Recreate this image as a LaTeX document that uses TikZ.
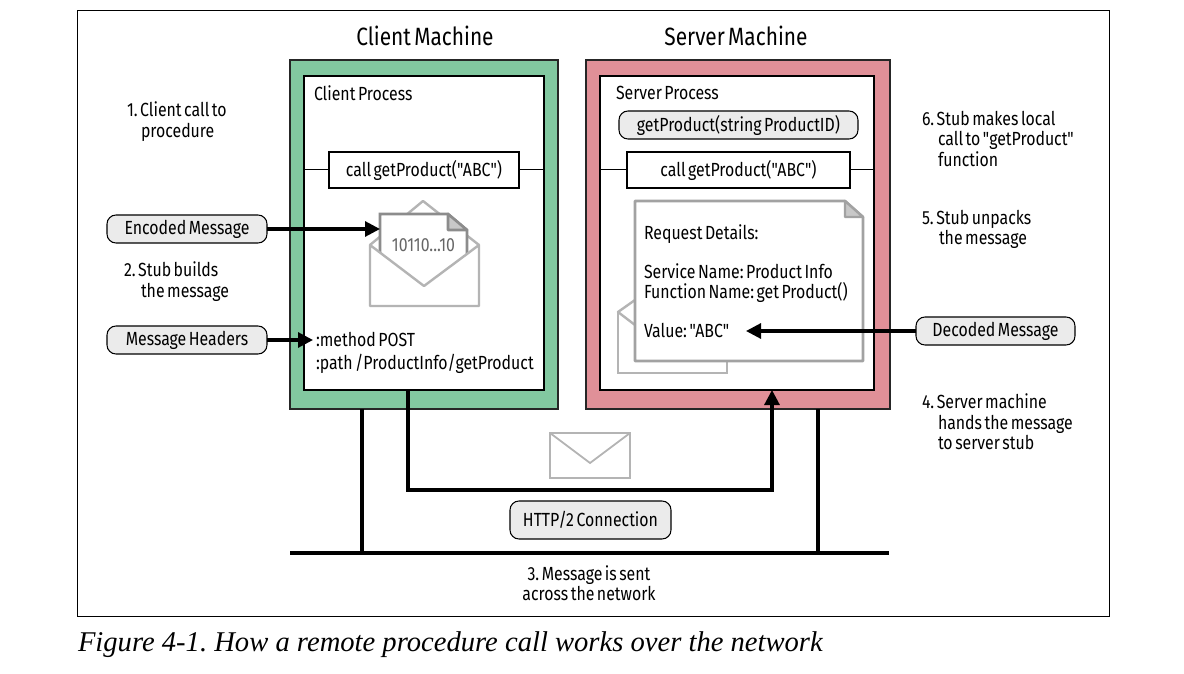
\documentclass[tikz,border=0pt]{standalone}
\usepackage{fontspec}
\setmainfont[FakeStretch=0.835,WordSpace=0.6,Ligatures=TeXOff]{Fira Sans}
\newfontfamily\capfont[Ligatures=TeX]{Liberation Serif}
\usetikzlibrary{positioning,arrows.meta}
\definecolor{clientgreen}{HTML}{82C8A0}
\definecolor{serverred}{HTML}{E09098}
\definecolor{pillgray}{HTML}{EBEBEB}
\definecolor{lightline}{HTML}{B4B4B4}
\definecolor{darkline}{HTML}{8C8C8C}
\definecolor{foldgray}{HTML}{C8C8C8}
\begin{document}
\frenchspacing
\begin{tikzpicture}[x=1pt,y=-1pt,
	every node/.style={on grid,font=\fontsize{19}{20.5}\selectfont,inner sep=0pt,outer sep=0pt},
	machine/.style={draw=black!85,line width=1.05pt,minimum height=349pt},
	process/.style={draw=black,line width=1.05pt,fill=white,minimum height=314pt},
	callbox/.style={draw=black,line width=1.05pt,fill=white,minimum height=36pt},
	pill/.style={draw=black,line width=1.05pt,fill=pillgray,rounded corners=9pt,minimum height=28pt},
	note/.style={align=left,anchor=north west},
	title/.style={font=\fontsize{25}{26}\selectfont},
	wire/.style={line width=3.05pt,black},
	tap/.style={line width=1pt,black},
	>={Triangle[length=15pt,width=15pt]}]
	\useasboundingbox (0,0) rectangle (1184,674);
	\node[draw=black,line width=0.8pt,minimum width=1032pt,minimum height=606pt] (frame) at (593,313.3) {};

	% machines
	\node[machine,fill=clientgreen,minimum width=268pt] (cm) at (424,234.5) {};
	\node[machine,fill=serverred,minimum width=304pt] (sm) at (738,234.5) {};
	\node[process,minimum width=240pt] (cp) at (424,233) {};
	\node[process,minimum width=274pt] (sp) at (737,233) {};
	\node[title] (cmt) at (425,36) {Client Machine};
	\node[title] (smt) at (736,36) {Server Machine};
	\node[anchor=west] (cpt) at (314,93) {Client Process};
	\node[anchor=west] (spt) at (616,93) {Server Process};

	% calls
	\node[callbox,minimum width=190pt] (cc) at (424,170) {call getProduct("ABC")};
	\node[callbox,minimum width=223pt] (sc) at (738.5,170) {call getProduct("ABC")};
	\node[pill,minimum width=239pt,above=45pt of sc] (gp) {getProduct(string ProductID)};
	\draw[tap] (cc.west) -- (cc.west -| cp.west);
	\draw[tap] (cc.east) -- (cc.east -| cp.east);
	\draw[tap] (sc.west) -- (sc.west -| sp.west);
	\draw[tap] (sc.east) -- (sc.east -| sp.east);

	% open envelope
	\draw[lightline,line width=2.4pt,line join=round] (370,245) -- (423,201) -- (479,245);
	\draw[darkline,line width=2.6pt,fill=white] (380,260) -- (380,214) -- (448,214) -- (467,230) -- (467,260);
	\draw[darkline,line width=2.6pt,fill=foldgray,line join=round] (448,214) -- (448,230) -- (467,230) -- cycle;
	\node[text=black!60] (bits) at (423.5,245) {10110...10};
	\draw[lightline,line width=2.4pt,fill=white,line join=round] (370,245) -- (424,286) -- (479,245) -- (479,306) -- (370,306) -- cycle;

	% pages
	\draw[lightline,line width=2.4pt,line join=round] (635,300) -- (618,312) -- (635,325);
	\draw[lightline,line width=2.4pt] (618,312) -- (618,373) -- (727,373) -- (727,360);
	\draw[lightline!90!black,line width=2.6pt,fill=white,line join=round] (635,201) -- (845,201) -- (863,217) -- (863,361) -- (635,361) -- cycle;
	\draw[lightline!90!black,line width=2.4pt,fill=foldgray,line join=round] (845,201) -- (845,217) -- (863,217) -- cycle;
	\node[anchor=west] (rd) at (644,234) {Request Details:};
	\node[anchor=west] (sn) at (644,271) {Service Name: Product Info};
	\node[anchor=west] (fn) at (644,292) {Function Name: get Product()};
	\node[anchor=west] (vl) at (644,330) {Value: "ABC"};

	% headers
	\node[anchor=west] (hd1) at (316,339) {:method POST};
	\node[anchor=west] (hd2) at (316,364) {:path /ProductInfo/getProduct};

	% pills and their arrows
	\node[pill,minimum width=160pt] (enc) at (187,229) {Encoded Message};
	\node[pill,minimum width=160pt,below=111pt of enc] (hdr) {Message Headers};
	\node[pill,minimum width=159pt] (dec) at (995.5,331) {Decoded Message};
	\coordinate (paper) at (380,229);
	\coordinate (meth) at (313,340);
	\coordinate (val) at (746,331);
	\draw[wire,->] (enc) -- (paper);
	\draw[wire,->] (hdr) -- (meth);
	\draw[wire,->] (dec) -- (val);

	% network
	\coordinate (netl) at (290,553);
	\coordinate (netr) at (889,553);
	\coordinate (tx) at (408,390);
	\coordinate (rx) at (772,390);
	\draw[wire] (netl) -- (netr);
	\draw[wire] (362,409) -- (362,553);
	\draw[wire] (818,409) -- (818,553);
	\draw[wire,->] (tx) -- ++(0,100) -| (rx);
	\node[draw=lightline,line width=1.8pt,minimum width=80pt,minimum height=45pt] (mail) at (590,455.5) {};
	\draw[lightline,line width=1.8pt] (mail.north west) -- (590,463) -- (mail.north east);
	\node[pill,minimum width=161pt,minimum height=38pt] (http) at (590.5,520) {HTTP/2 Connection};

	% notes
	\node[note] (n1) at (127,102) {1. Client call to\\\hspace{14pt}procedure};
	\node[note] (n2) at (124,262) {2. Stub builds\\\hspace{17pt}the message};
	\node[align=center] (n3) at (589,583) {3. Message is sent\\across the network};
	\node[note] (n4) at (922,394) {4. Server machine\\\hspace{16pt}hands the message\\\hspace{16pt}to server stub};
	\node[note] (n5) at (922,210) {5. Stub unpacks\\\hspace{17pt}the message};
	\node[note] (n6) at (922,111) {6. Stub makes local\\\hspace{16pt}call to "getProduct"\\\hspace{16pt}function};

	\node[anchor=west,font=\capfont\itshape\fontsize{28.6}{31}\selectfont] (cap) at (78,645) {Figure 4-1. How a remote procedure call works over the network};
\end{tikzpicture}
\end{document}
